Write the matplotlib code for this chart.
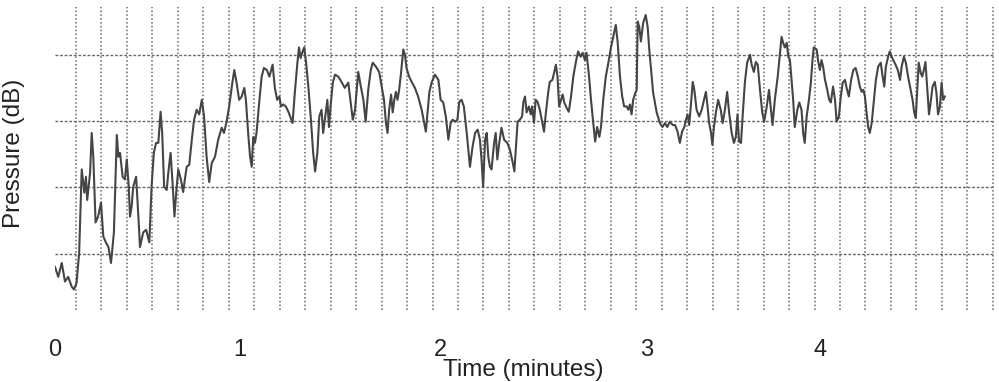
import numpy as np
import matplotlib
matplotlib.use("Agg")
import matplotlib.pyplot as plt

plt.rcParams['font.family'] = ['Liberation Sans', 'DejaVu Sans']

# Time (seconds) and pressure (dB)
time_s = [
    0.0, 1.0, 2.1, 3.1, 4.1, 5.2, 5.9, 6.7, 7.5, 8.3, 9.1, 9.6, 10.0, 10.9, 11.4, 11.9,
    12.6, 13.4, 14.3, 15.0, 15.8, 16.6, 17.4, 18.3, 19.2, 19.7, 20.2, 21.0, 21.7, 22.3,
    22.9, 23.3, 23.8, 24.3, 25.2, 25.9, 26.4, 27.4, 28.3, 29.3, 30.0, 30.7, 31.4, 32.1,
    32.8, 33.3, 33.9, 34.7, 35.2, 35.9, 36.6, 37.1, 37.8, 38.3, 39.1, 39.8, 40.9, 41.7,
    42.5, 43.2, 44.0, 44.8,
    45.6, 46.3, 47.1, 47.9, 48.7, 49.7, 50.7, 51.8, 52.5, 53.3, 54.1, 55.1, 55.7, 56.4,
    57.2, 58.0, 58.8, 59.3, 60.0, 60.6, 61.1, 61.6, 62.1, 62.6, 63.5, 64.2, 64.9, 65.8,
    66.6, 67.0, 67.6, 68.3, 69.0, 69.7, 70.2, 70.9, 71.7, 72.5, 73.2, 73.8, 74.5, 75.3,
    75.8, 76.3, 76.8, 77.4, 78.0, 78.7, 79.5, 80.2, 80.8, 81.5, 82.1, 82.8, 83.3, 84.1,
    84.6, 85.1, 85.6, 86.3, 87.0, 88.0, 89.0, 90.0, 91.1,
    92.5, 93.2, 94.2, 95.0, 95.8, 96.5, 97.3, 98.1, 98.7, 99.7, 100.7, 101.5, 102.2,
    102.8, 103.3, 103.8, 104.4, 104.9, 105.4, 105.9, 106.4, 106.9, 107.5, 108.2, 108.7,
    109.2, 110.0, 110.8, 111.8, 112.8, 113.9, 114.6, 115.2, 115.8, 116.3, 117.0, 118.0,
    119.1, 119.8, 120.6, 121.4, 122.2, 122.9, 123.5, 124.3, 125.0, 125.6, 126.3, 127.0,
    127.9, 128.9, 129.7, 130.5, 131.3, 132.0, 132.5, 133.0, 133.6, 134.1, 134.6, 135.1,
    135.6, 136.4, 136.9, 137.4, 138.0,
    138.7, 139.5, 140.5, 141.3, 142.2, 142.7, 143.2, 143.7, 144.4, 145.1, 145.5, 146.0,
    146.5, 147.2, 147.8, 148.2, 148.8, 149.3, 149.9, 150.6, 151.4, 151.9, 152.5, 153.2,
    153.7, 154.5, 155.1, 155.6, 156.1, 156.6, 157.2, 157.7, 158.2, 158.9, 159.6, 160.3,
    161.0, 161.8, 162.5, 163.3, 163.9, 164.6, 165.1, 165.9, 166.5, 167.2, 167.8, 168.4,
    169.1, 169.6, 170.3, 171.1, 171.9, 172.7, 173.4, 174.2, 174.8, 175.5, 176.2, 176.8,
    177.6, 178.1, 178.6, 179.1, 179.6, 180.1, 180.7, 181.0, 181.5, 182.0, 182.7, 183.5,
    184.1, 184.6,
    185.8, 186.9, 187.9, 188.7, 189.5, 190.2, 191.0, 191.9, 192.6, 193.4, 194.1, 194.8,
    195.5, 196.0, 196.5, 197.0, 197.5, 198.1, 198.6, 199.3, 200.1, 200.9, 201.6, 202.2,
    202.7, 203.2, 203.8, 204.2, 204.7, 205.3, 206.0, 206.8, 207.4, 208.1, 208.8, 209.4,
    210.2, 210.9, 211.5, 212.0, 212.5, 213.1, 213.6, 214.3, 215.0, 215.9, 216.4, 217.1,
    217.7, 218.3, 219.0, 219.7, 220.3, 221.1, 221.8, 222.3, 222.9, 223.6, 224.5, 225.2,
    225.7, 226.2, 226.7, 227.3, 227.8, 228.3, 228.8, 229.3, 229.8, 230.6, 231.2,
    231.9, 232.4, 232.9, 233.5, 234.2, 234.8, 235.3, 235.7, 236.6, 237.1, 237.6, 238.1,
    238.6, 239.2, 239.9, 240.5, 241.0, 241.7, 242.3, 242.8, 243.5, 244.1, 244.7, 245.4,
    245.9, 246.6, 247.3, 248.0, 248.7, 249.4, 250.0, 250.6, 251.1, 251.6, 252.1, 252.6,
    253.1, 253.7, 254.4, 255.0, 255.7, 256.5, 257.1, 257.6, 258.1, 258.8, 259.3, 259.9,
    260.4, 261.1, 261.8, 262.5, 263.0, 263.7, 264.3, 265.0, 265.8, 266.4, 266.9, 267.4,
    267.8, 268.3, 268.9, 269.4, 269.9, 270.4, 271.0, 271.5, 272.0, 272.6, 273.3, 273.8,
    274.3, 274.9, 275.4, 275.9, 276.4,
]

pressure_db = [
    38.0, 36.5, 38.6, 35.8, 36.5, 35.0, 34.6, 35.6, 40.1, 52.7, 49.2, 51.6, 48.1, 52.2, 58.2, 54.6,
    44.7, 45.6, 47.7, 42.6, 41.7, 41.0, 38.6, 43.2, 57.9, 54.6, 55.2, 51.6, 51.2, 54.2,
    50.1, 45.6, 47.1, 50.1, 51.6, 45.6, 41.0, 43.2, 43.6, 41.7, 50.1, 55.2, 56.7, 56.7,
    61.4, 58.2, 50.1, 49.6, 52.2, 55.2, 50.1, 45.6, 50.1, 52.7, 51.2, 49.3, 53.1, 53.4,
    57.2, 60.2, 61.7, 61.0,
    63.2, 60.7, 54.6, 50.8, 53.7, 54.6, 57.2, 59.0, 58.2, 59.9, 62.2, 65.8, 67.7, 65.8,
    63.2, 63.7, 65.0, 63.2, 58.2, 54.6, 53.1, 57.6, 56.7, 58.2, 63.2, 66.7, 68.0, 67.7,
    66.7, 67.4, 68.5, 65.0, 63.2, 63.7, 62.2, 62.5, 62.2, 61.4, 60.5, 59.7, 64.3, 68.8,
    71.1, 69.5, 70.3, 71.1, 68.8, 65.2, 60.2, 55.2, 52.4, 55.2, 60.7, 61.7, 58.2, 61.3,
    63.2, 59.1, 62.2, 65.8, 67.0, 66.7, 65.9, 65.0, 65.8,
    60.2, 61.7, 67.4, 65.2, 63.2, 59.9, 64.7, 67.7, 68.8, 68.2, 67.4, 65.2, 63.2,
    59.7, 58.2, 61.7, 64.0, 61.3, 63.2, 64.4, 63.2, 64.7, 67.3, 70.8, 70.0,
    68.0, 66.7, 65.9, 65.0, 63.7, 61.7, 59.9, 58.4, 61.7, 64.4, 65.8, 67.0,
    66.2, 63.2, 62.8, 60.7, 57.2, 59.7, 60.2, 59.9, 60.2, 62.9, 63.2, 62.2,
    58.2, 53.1, 56.1, 58.2, 58.7, 57.2, 54.2, 50.1, 57.2, 58.2, 54.6, 53.1,
    52.7, 56.7, 58.2, 54.2, 56.7,
    59.0, 57.2, 56.7, 55.7, 53.7, 52.4, 56.1, 59.9, 60.2, 60.7, 62.9, 63.7,
    61.3, 62.2, 61.0, 62.2, 59.7, 63.2, 62.9, 61.7, 59.7, 58.4, 61.3, 64.3,
    65.9, 66.2, 67.4, 68.5, 66.7, 62.2, 63.2, 64.0, 62.8, 62.0, 61.4, 63.7,
    66.7, 68.9, 70.5, 69.7, 70.3, 69.2, 70.3, 66.7, 63.2, 59.7, 56.9, 59.1,
    57.6, 59.1, 63.2, 66.7, 68.8, 71.1, 72.7, 74.5, 71.8, 66.7, 63.7, 62.2,
    62.2, 61.7, 62.5, 61.0, 63.2, 64.0, 64.7, 75.0, 74.2, 72.0, 74.8, 76.0,
    74.2, 70.8,
    64.3, 61.3, 59.7, 59.1, 59.7, 59.1, 59.9, 59.4, 59.4, 58.4, 56.7, 58.4,
    59.1, 60.2, 61.0, 59.4, 62.2, 65.9, 64.7, 61.7, 60.7, 61.7, 63.2, 64.4,
    62.2, 59.7, 58.2, 56.4, 59.1, 61.3, 63.2, 61.7, 59.7, 61.7, 64.4, 61.3,
    58.2, 56.7, 57.6, 61.0, 56.9, 56.7, 60.7, 65.8, 68.8, 70.0, 68.5, 67.4,
    68.9, 68.5, 64.7, 61.3, 59.9, 62.2, 64.7, 62.2, 59.4, 63.2, 66.7, 70.3,
    72.7, 71.8, 71.1, 71.8, 69.7, 69.2, 66.2, 63.2, 59.1, 61.7, 62.8,
    61.7, 58.2, 56.7, 60.7, 63.2, 65.8, 69.2, 71.1, 70.8, 68.9, 67.7, 69.2,
    68.2, 66.2, 64.7, 63.2, 62.8, 65.2, 63.2, 59.9, 60.7, 63.7, 65.8, 66.2,
    65.0, 63.7, 66.2, 67.7, 68.0, 66.7, 65.2, 64.4, 64.7, 63.7, 61.3, 59.1,
    58.2, 59.7, 63.2, 66.2, 68.2, 68.8, 66.7, 65.2, 68.2, 69.7, 70.5, 69.7,
    69.2, 68.5, 67.7, 66.2, 68.2, 69.7, 68.8, 66.7, 64.7, 63.2, 61.3, 60.5,
    64.3, 68.8, 67.3, 66.7, 67.7, 68.9, 64.7, 61.0, 62.8, 65.2, 65.9, 64.3,
    61.0, 62.2, 65.8, 63.2, 63.7,
]

minute_labels = ["0", "1", "2", "3", "4"]
minute_label_pos_s = [0.0, 57.5, 119.6, 183.8, 237.6]
pressure_grid_db = [40, 50, 60, 70]

fig = plt.figure(figsize=(9.99, 3.82), dpi=100)
ax = fig.add_axes([55 / 999, 1 - 310 / 382, 940 / 999, 303 / 382])

ax.plot(time_s, pressure_db, color="#454545", lw=1.5, zorder=3)

ax.set_xlim(0, 292.0)
ax.set_ylim(31.5, 77.2)

# vertical dotted grid (minor ticks), horizontal dashed grid
ax.set_xticks(np.arange(6.52, 292.0, 7.911), minor=True)
ax.set_xticks(minute_label_pos_s)
ax.set_xticklabels(minute_labels, fontsize=17)
ax.set_yticks(pressure_grid_db)
ax.set_yticklabels([])
ax.grid(which="minor", axis="x", color="#666666", lw=1.1, linestyle=(0, (1, 1.5)))
ax.grid(which="major", axis="x", visible=False)
ax.grid(which="major", axis="y", color="#666666", lw=1.0, linestyle=(0, (2.0, 1.3)))
ax.tick_params(which="both", length=0, pad=21, colors="#222222")
for s in ax.spines.values():
    s.set_visible(False)

fig.text(523 / 999, 1 - 376 / 382, "Time (minutes)", fontsize=17.5,
         ha="center", va="baseline", color="#222222")
fig.text(20 / 999, 1 - 153.5 / 382, "Pressure (dB)", fontsize=17.5,
         rotation=90, rotation_mode="anchor", ha="center", va="baseline", color="#222222")

fig.savefig("out.png", dpi=100)
